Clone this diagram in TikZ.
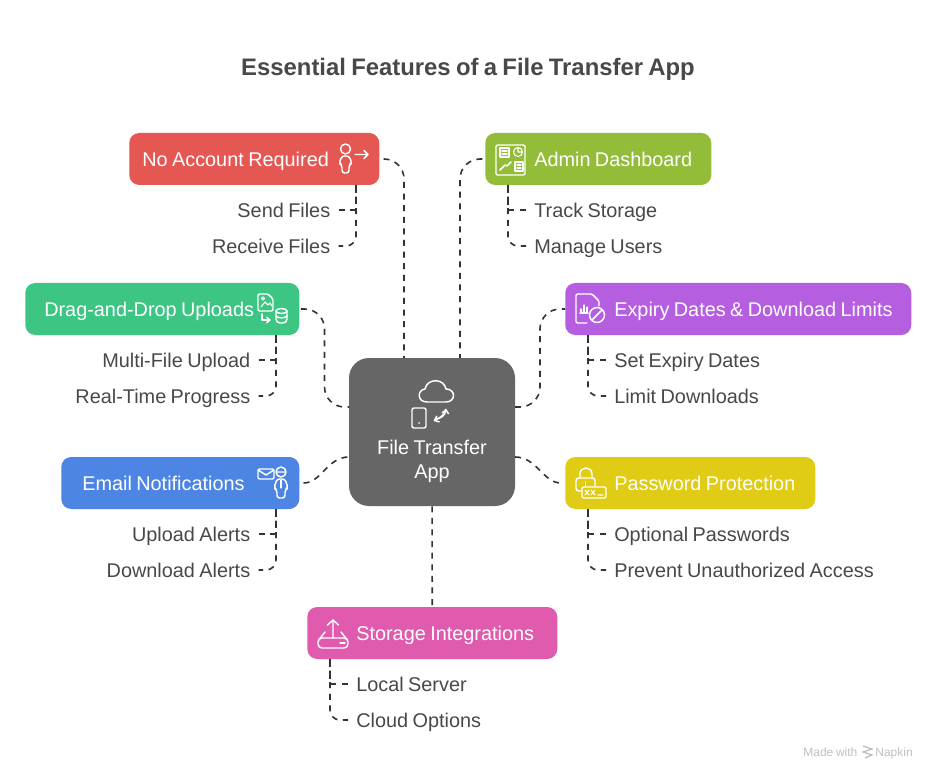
\documentclass[tikz,border=0pt]{standalone}
\usepackage{fontspec}
\setmainfont[WordSpace=0.8]{Liberation Sans}
\usetikzlibrary{arrows.meta,positioning}
\definecolor{redbox}{HTML}{E55753}
\definecolor{limebox}{HTML}{93BD38}
\definecolor{greenbox}{HTML}{3CC583}
\definecolor{purplebox}{HTML}{B55EE0}
\definecolor{bluebox}{HTML}{4D85E5}
\definecolor{yellowbox}{HTML}{E0CB15}
\definecolor{pinkbox}{HTML}{E05AAD}
\definecolor{hubgrey}{HTML}{666666}
\definecolor{inktext}{HTML}{484848}
\definecolor{linkgrey}{HTML}{333333}

\begin{document}
\begin{tikzpicture}[
		x=.75pt, y=-.75pt,
		box/.style n args={3}{anchor=west, fill=#1, rounded corners=7.5pt, text=white, text width=#2, minimum height=39pt, inner xsep=0pt, inner ysep=0pt, align=flush left, text height=12pt, text depth=1pt, execute at begin node={\hspace*{#3}}, font=\fontsize{14.9}{18}\selectfont},
		hub/.style={fill=hubgrey, rounded corners=15pt, text=white, minimum width=124.5pt, minimum height=111pt, inner sep=0pt, align=center, font=\fontsize{14.9}{18}\selectfont},
		leafl/.style={anchor=west, text=inktext, inner xsep=6pt, inner ysep=0pt, text height=12pt, text depth=1pt, font=\fontsize{14.9}{18}\selectfont},
		leafr/.style={anchor=east, text=inktext, inner xsep=6pt, inner ysep=0pt, text height=12pt, text depth=1pt, font=\fontsize{14.9}{18}\selectfont},
		link/.style={draw=linkgrey, line width=1.2pt, dash pattern=on 4.5pt off 4.2pt},
		icon/.style={draw=white, line width=1.1pt, line join=round, line cap=round}
	]
		\useasboundingbox (0,0) rectangle (936,781);

		\node[text=inktext, font=\fontsize{17.9}{22}\selectfont\bfseries] (title) at (468,69) {Essential Features of a File Transfer App};

		\node[hub] (hub) at (432,432) {\rule{0pt}{55.5pt}File Transfer\\App};

		\node[box={redbox}{187.5pt}{9.75pt}] (noaccount) at (129,159) {No Account Required};
		\node[box={limebox}{169.5pt}{36.75pt}] (admin) at (485,159) {Admin Dashboard};
		\node[box={greenbox}{205.5pt}{14.25pt}] (drag) at (25,309) {Drag-and-Drop Uploads};
		\node[box={purplebox}{259.5pt}{36.75pt}] (expiry) at (565,309) {Expiry Dates \& Download Limits};
		\node[box={bluebox}{178.5pt}{15.75pt}] (email) at (61,483) {Email Notifications};
		\node[box={yellowbox}{187.5pt}{36.75pt}] (password) at (565,483) {Password Protection};
		\node[box={pinkbox}{187.5pt}{36.75pt}] (storage) at (307,633) {Storage Integrations};

		\node[leafr] (send) at (338.5,210) {Send Files};
		\node[leafr] (receive) at (338.5,246) {Receive Files};
		\node[leafl] (track) at (526,210) {Track Storage};
		\node[leafl] (manage) at (526,246) {Manage Users};
		\node[leafr] (multi) at (258.5,360) {Multi-File Upload};
		\node[leafr] (progress) at (258.5,396) {Real-Time Progress};
		\node[leafl] (setexpiry) at (606,360) {Set Expiry Dates};
		\node[leafl] (limit) at (606,396) {Limit Downloads};
		\node[leafr] (upload) at (258.5,534) {Upload Alerts};
		\node[leafr] (download) at (258.5,570) {Download Alerts};
		\node[leafl] (optional) at (606,534) {Optional Passwords};
		\node[leafl] (prevent) at (606,570) {Prevent Unauthorized Access};
		\node[leafl] (local) at (348,684) {Local Server};
		\node[leafl] (cloud) at (348,720) {Cloud Options};

		\node[text=black!25, inner sep=0pt, anchor=east, font=\fontsize{9}{11}\selectfont] (napkin) at (913,753) {Made with\hspace*{13.5pt}Napkin};

		\coordinate (hub-a) at (404,358);
		\coordinate (hub-b) at (460,358);
		\coordinate (hub-c) at (349,407);
		\coordinate (hub-d) at (515,407);
		\coordinate (hub-e) at (349,457);
		\coordinate (hub-f) at (515,457);
		\coordinate (noaccount-t) at (356,185);
		\coordinate (admin-t) at (508,185);
		\coordinate (drag-t) at (276,335);
		\coordinate (expiry-t) at (588,335);
		\coordinate (email-t) at (276,509);
		\coordinate (password-t) at (588,509);
		\coordinate (storage-t) at (330,659);

		% spokes
		\draw[link, rounded corners=15pt, shorten <=3pt] (noaccount.east) -| (hub-a);
		\draw[link, rounded corners=15pt, shorten <=2pt] (admin.west) -| (hub-b);
		\draw[link, rounded corners=15pt, shorten <=1pt] (drag.east) -- ++(25,0) |- (hub-c);
		\draw[link, rounded corners=15pt] (hub-d) -- ++(25,0) |- (expiry.west);
		\draw[link, shorten <=3pt] (email.east) to[out=0, in=180] (hub-e);
		\draw[link, shorten >=3pt] (hub-f) to[out=0, in=180] (password.west);
		\draw[link] (hub) -- (storage);

		% leaves
		\foreach \trunk/\first/\second in {noaccount-t/send/receive, admin-t/track/manage, drag-t/multi/progress, expiry-t/setexpiry/limit, email-t/upload/download, password-t/optional/prevent, storage-t/local/cloud}{
			\draw[link] (\first) -| (\trunk);
			\draw[link, rounded corners=7.5pt] (\trunk) |- (\second);
		}

		% icons
		\draw[icon] (345.5,149) circle[radius=5];
		\draw[icon, rounded corners=2pt] (342,156) -- (349,156) -- (352,163) -- (349,165) -- (349,173) -- (342,173) -- (342,165) -- (339,163) -- cycle;
		\draw[icon] (355,154.5) -- (368,154.5) (364,150.5) -- (368,154.5) -- (364,158.5);

		\draw[icon, rounded corners=1pt] (496,145) rectangle (525,175);
		\draw[icon, line width=.8pt] (500,148) rectangle (509,157) (502,151) -- (507,151) (502,154) -- (507,154);
		\draw[icon, line width=.8pt] (518,152) circle[radius=4.5] (518,152) -- (518,148) (518,152) -- (522,152);
		\draw[icon, line width=.8pt] (515,162) rectangle (523,171) (517,165) -- (521,165) (517,168) -- (521,168);
		\draw[icon] (500,170) -- (505,165) -- (507,166) -- (511,162);

		\draw[icon, rounded corners=1pt] (258,294) -- (268,294) -- (273,299) -- (273,311) -- (258,311) -- cycle;
		\draw[icon, line width=.8pt] (261,307) -- (265,302) -- (268,305) -- (270,303) -- (272,306) (263,298.5) circle[radius=1.5];
		\draw[icon, -{Straight Barb[length=2.5pt,width=4.5pt]}] (262,314) -- (262,320) -- (271,320);
		\draw[icon, rounded corners=3pt] (276,311) -- (276,323) -- (287,323) -- (287,311);
		\draw[icon] (281.5,311) ellipse[x radius=5.5, y radius=2.5] (276,316) .. controls (278,318.5) and (285,318.5) .. (287,316);

		\draw[icon, rounded corners=1pt] (587,323) -- (576,323) -- (576,294) -- (592,294) -- (599,301) -- (599,306);
		\draw[icon, line width=.8pt] (580,313) -- (588,313) (581,313) -- (581,309) (584,313) -- (584,305) (587,313) -- (587,307);
		\draw[icon] (597,315) circle[radius=7.5] (592,320) -- (602,310);

		\draw[icon, rounded corners=1pt] (258,469) rectangle (274,479);
		\draw[icon] (258,470) -- (266,475) -- (274,470);
		\draw[icon] (281,472) circle[radius=5] (276,472) -- (286,472);
		\draw[icon, rounded corners=2pt] (277,479) -- (285,479) -- (288,488) -- (285,490) -- (285,498) -- (277,498) -- (277,490) -- (274,488) -- cycle;
		\draw[icon, line width=.8pt] (281,480) -- (281,488);

		\draw[icon, rounded corners=2pt] (582,491) -- (576,491) -- (576,478) -- (595,478) -- (595,486);
		\draw[icon] (580,478) -- (580,474) .. controls (580,466) and (592,466) .. (592,474) -- (592,478);
		\draw[icon] (585.5,482) -- (585.5,486);
		\draw[icon, rounded corners=1pt] (582,487) rectangle (606,498);
		\draw[icon, line width=.8pt] (585,490) -- (589,495) (589,490) -- (585,495) (591,490) -- (595,495) (595,490) -- (591,495) (598,495) -- (603,495);

		\draw[icon] (333,638) -- (333,620) (327.5,625) -- (333,620) -- (338.5,625);
		\draw[icon, rounded corners=3pt] (318,638) rectangle (348,648);
		\draw[icon] (325,632) -- (319.5,639) (341,632) -- (346.5,639);
		\draw[icon, line width=.8pt] (340,643) -- (345,643);

		\draw[icon] (427,402) .. controls (417,402) and (417,390) .. (425,389) .. controls (427,378) and (444,378) .. (446,389) .. controls (456,389) and (456,402) .. (446,402) -- cycle;
		\draw[icon, rounded corners=1.5pt] (412,408) rectangle (426,428);
		\draw[icon] (419,423) -- (419.2,423);
		\draw[icon, -{Straight Barb[length=3pt,width=5pt]}] (436,419) .. controls (441,418) and (445,416) .. (446,408.5);
		\draw[icon, -{Straight Barb[length=3pt,width=5pt]}] (444,414) .. controls (441,417) and (438,419) .. (433.5,421);

		\draw[black!25, line width=1pt] (863,746) -- (872,749) -- (863,752) -- (872,755) -- (865,758);
	\end{tikzpicture}
\end{document}
